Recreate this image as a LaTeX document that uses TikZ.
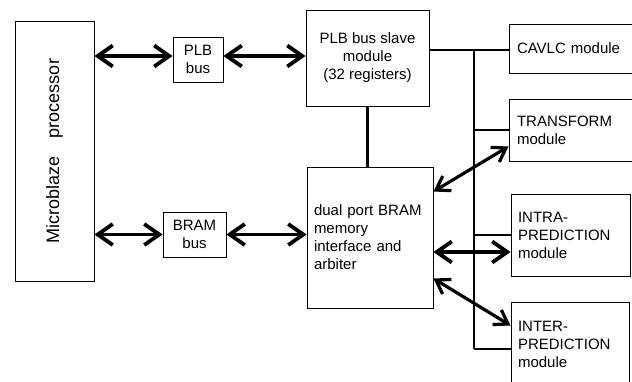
\documentclass[tikz,border=0pt]{standalone}
\usepackage{fontspec}
\setmainfont{Liberation Sans}
\usetikzlibrary{arrows.meta,calc}
\begin{document}
\begin{tikzpicture}[x=1pt,y=-1pt,
  box/.style={draw, line width=0.9pt, inner sep=0pt, font=\fontsize{15}{18}\selectfont},
  lbox/.style={box, align=left, inner xsep=7pt},
  busline/.style={line width=2.4pt},
  bigarrow/.style={line width=3.8pt, {Straight Barb[length=15pt,width=21pt]}-{Straight Barb[length=15pt,width=21pt]}},
  diagarrow/.style={line width=3.2pt, {Straight Barb[length=13pt,width=17pt]}-{Straight Barb[length=13pt,width=17pt]}}]
\useasboundingbox (0,0) rectangle (632,381);
\clip (0,0) rectangle (632,381);
\fill[white] (0,0) rectangle (632,381);
% boxes
\node[box, minimum width=79pt, minimum height=260pt] (mb) at (54.5,151) {};
\node[rotate=90, font=\fontsize{18}{20}\selectfont, inner sep=0pt] (mbt) at (mb.center) {Microblaze\hspace{18pt}processor};
\node[box, minimum width=50pt, minimum height=45pt, align=center] (plb) at (198,59.5) {PLB\\bus};
\node[box, minimum width=63pt, minimum height=45pt, align=center] (bram) at (194.5,234.5) {BRAM\\bus};
\node[box, minimum width=123pt, minimum height=96pt, align=center] (slave) at (367.5,58) {PLB bus slave\\module\\(32 registers)};
\node[lbox, text width=112pt, minimum height=141pt] (dual) at (370,237.5) {dual port BRAM\\memory\\interface and\\arbiter};
\node[lbox, inner xsep=8pt, text width=120pt, minimum height=49pt] (cavlc) at (577,48.5) {CAVLC module};
\node[lbox, inner xsep=8pt, text width=120pt, minimum height=62pt] (transform) at (577,130) {TRANSFORM\\module};
\node[lbox, inner xsep=7pt, text width=105pt, minimum height=82pt] (intra) at (570.5,235) {INTRA-\\PREDICTION\\module};
\node[lbox, inner xsep=7pt, text width=104pt, minimum height=84pt] (inter) at (570,344) {INTER-\\PREDICTION\\module};
% bus lines
\coordinate (j1) at (474,50);
\coordinate (jb) at (474,349);
\draw[busline] (j1 -| slave.east) -- (j1 -| cavlc.west);
\draw[busline] (j1) -- (jb);
\draw[busline] (transform.west -| j1) -- (transform.west);
\draw[busline] (intra.west -| j1) -- (intra.west);
\draw[busline] (jb) -- (jb -| inter.west);
\draw[busline] (slave.south) -- (slave.south |- dual.north);
% arrows
\coordinate (ya) at (0,56);
\draw[bigarrow] (ya -| mb.east) -- (ya -| plb.west);
\draw[bigarrow] (ya -| plb.east) -- (ya -| slave.west);
\draw[bigarrow] (bram.west -| mb.east) -- (bram.west);
\draw[bigarrow] (bram.east) -- (bram.east -| dual.west);
\coordinate (yi) at (0,252);
\draw[bigarrow] (yi -| dual.east) -- (yi -| intra.west);
\draw[diagarrow] ([yshift=-25pt]dual.north east) -- ([yshift=15pt]transform.south west);
\draw[diagarrow] ([yshift=30pt]dual.south east) -- ([yshift=-24pt]inter.north west);
\end{tikzpicture}
\end{document}
